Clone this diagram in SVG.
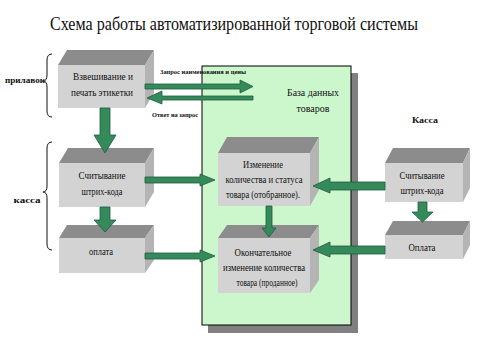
<svg xmlns="http://www.w3.org/2000/svg" width="485" height="349" viewBox="0 0 485 349">
<style>
.t{font-family:"Liberation Serif","Times New Roman",serif;fill:#111;text-anchor:middle}
.bx{font-size:10px}
.lb{font-size:9px;font-weight:bold}
.sm{font-size:7px;font-weight:bold;text-anchor:start}
.top{fill:#8c8c8c}
.front{fill:#d3d3d3}
.side{fill:#b4b4b4}
.arr{fill:#358a5c;stroke:#1e5c3a;stroke-width:0.8}
.br{fill:none;stroke:#111;stroke-width:1}
</style>
<rect width="485" height="349" fill="#fff"/>
<text class="t" x="234" y="30" font-size="18" textLength="368" lengthAdjust="spacingAndGlyphs">Схема работы автоматизированной торговой системы</text>

<g id="database">
<rect x="208" y="73" width="150" height="260" fill="#808080"/>
<rect x="202" y="66" width="149" height="259" fill="#ccf7cc" stroke="#000" stroke-width="1"/>
<text class="t bx" x="313" y="96" textLength="52" lengthAdjust="spacingAndGlyphs">База данных</text>
<text class="t bx" x="313" y="112" textLength="33" lengthAdjust="spacingAndGlyphs">товаров</text>
</g>

<g id="label-prilavok">
<text class="t lb" x="25" y="83" textLength="40" lengthAdjust="spacingAndGlyphs">прилавок</text>
<path class="br" d="M52,54 Q47,54 47,60 L47,75 Q47,81 43,81 Q47,81 47,87 L47,111 Q47,117 52,117"/>
</g>
<g id="label-kassa-left">
<text class="t lb" x="27" y="203" textLength="27" lengthAdjust="spacingAndGlyphs">касса</text>
<path class="br" d="M52,142 Q47,142 47,148 L47,186 Q47,192 43,192 Q47,192 47,198 L47,244 Q47,250 52,250"/>
</g>
<g id="label-kassa-right">
<text class="t lb" x="425" y="123" textLength="26" lengthAdjust="spacingAndGlyphs">Касса</text>
</g>

<g id="box-weigh">
<polygon class="top" points="58,65 67,50 154,50 145,65"/>
<polygon class="side" points="145,65 154,50 154,93 145,108"/>
<rect class="front" x="58" y="65" width="87" height="43"/>
<text class="t bx" x="103" y="80" textLength="60" lengthAdjust="spacingAndGlyphs">Взвешивание и</text>
<text class="t bx" x="102" y="96" textLength="62" lengthAdjust="spacingAndGlyphs">печать этикетки</text>
</g>

<g id="box-scan-left">
<polygon class="top" points="59,163 68,148 154,148 145,163"/>
<polygon class="side" points="145,163 154,148 154,192 145,207"/>
<rect class="front" x="59" y="163" width="86" height="44"/>
<text class="t bx" x="102" y="179" textLength="47" lengthAdjust="spacingAndGlyphs">Считывание</text>
<text class="t bx" x="102" y="195" textLength="41" lengthAdjust="spacingAndGlyphs">штрих-кода</text>
</g>

<g id="box-pay-left">
<polygon class="top" points="59,238 67,225 154,225 145,238"/>
<polygon class="side" points="145,238 154,225 154,260 145,273"/>
<rect class="front" x="59" y="238" width="86" height="35"/>
<text class="t bx" x="101" y="255" textLength="24" lengthAdjust="spacingAndGlyphs">оплата</text>
</g>

<g id="box-change">
<polygon class="top" points="218,153 227,137 319,137 310,153"/>
<polygon class="side" points="310,153 319,137 319,190 310,206"/>
<rect class="front" x="218" y="153" width="92" height="53"/>
<text class="t bx" x="263" y="168" textLength="40" lengthAdjust="spacingAndGlyphs">Изменение</text>
<text class="t bx" x="264" y="183" textLength="77" lengthAdjust="spacingAndGlyphs">количества и статуса</text>
<text class="t bx" x="263" y="198" textLength="74" lengthAdjust="spacingAndGlyphs">товара (отобранное).</text>
</g>

<g id="box-final">
<polygon class="top" points="218,238 227,225 319,225 310,238"/>
<polygon class="side" points="310,238 319,225 319,280 310,293"/>
<rect class="front" x="218" y="238" width="92" height="55"/>
<text class="t bx" x="263" y="256" textLength="57" lengthAdjust="spacingAndGlyphs">Окончательное</text>
<text class="t bx" x="264" y="271" textLength="82" lengthAdjust="spacingAndGlyphs">изменение количества</text>
<text class="t bx" x="267" y="286" textLength="61" lengthAdjust="spacingAndGlyphs">товара (проданное)</text>
</g>

<g id="box-scan-right">
<polygon class="top" points="385,163 393,148 470,148 463,163"/>
<polygon class="side" points="463,163 470,148 470,188 463,202"/>
<rect class="front" x="385" y="163" width="78" height="39"/>
<text class="t bx" x="422" y="179" textLength="45" lengthAdjust="spacingAndGlyphs">Считывание</text>
<text class="t bx" x="422" y="194" textLength="43" lengthAdjust="spacingAndGlyphs">штрих-кода</text>
</g>

<g id="box-pay-right">
<polygon class="top" points="385,235 393,221 470,221 463,235"/>
<polygon class="side" points="463,235 470,221 470,245 463,259"/>
<rect class="front" x="385" y="235" width="78" height="24"/>
<text class="t bx" x="422" y="251" textLength="27" lengthAdjust="spacingAndGlyphs">Оплата</text>
</g>

<g id="connectors">
<polygon class="arr" points="145,84 240,84 240,80 253,86.5 240,93 240,89 145,89"/>
<text class="t sm" x="160" y="74" textLength="86" lengthAdjust="spacingAndGlyphs">Запрос наименования и цены</text>
<polygon class="arr" points="253,96 162,96 162,91 147,98 162,104 162,100 253,100"/>
<text class="t sm" x="152" y="117" textLength="46" lengthAdjust="spacingAndGlyphs">Ответ на запрос</text>
<polygon class="arr" points="100,108 110,108 110,135 116,135 105,153 94,135 100,135"/>
<polygon class="arr" points="100,207 110,207 110,220 116,220 105,232 94,220 100,220"/>
<polygon class="arr" points="145,177 200,177 200,174 215,180 200,186 200,183 145,183"/>
<polygon class="arr" points="145,253 200,253 200,250 215,256 200,262 200,259 145,259"/>
<polygon class="arr" points="266,206 272,206 272,228 276,228 269,237 262,228 266,228"/>
<polygon class="arr" points="385,182 330,182 330,178 313,186 330,193 330,190 385,190"/>
<polygon class="arr" points="385,246 330,246 330,242 313,250 330,257 330,254 385,254"/>
<polygon class="arr" points="418,202 427,202 427,212 433,212 422.5,222 412,212 418,212"/>
</g>
</svg>
